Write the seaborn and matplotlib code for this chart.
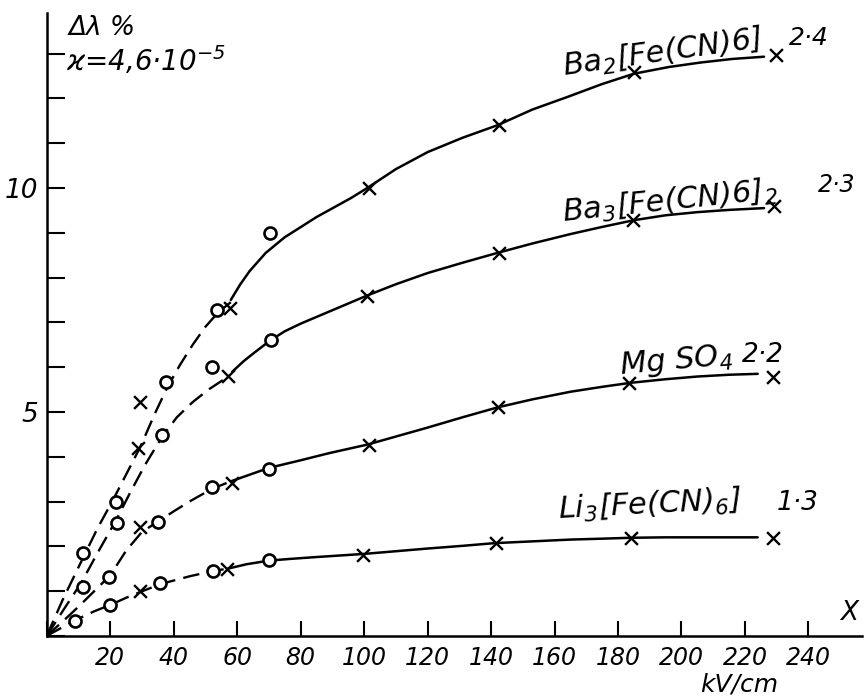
import matplotlib
matplotlib.use("Agg")
import matplotlib.pyplot as plt
import numpy as np
import pandas as pd
import seaborn as sns

# field strength kV/cm and relative change of wavelength
# measured points (x = crosses, o = circles)
ba2_cross_x = [28.8, 29.5, 57.9, 101.4, 142.4, 185.0, 229.8]
ba2_cross_y = [4.20, 5.22, 7.32, 10.0, 11.40, 12.59, 12.97]
ba2_circ_x = [11.5, 21.9, 37.7, 53.8, 70.4]
ba2_circ_y = [1.85, 2.99, 5.67, 7.28, 9.00]

ba3_cross_x = [57.0, 101.0, 142.4, 184.7, 229.1]
ba3_cross_y = [5.80, 7.59, 8.55, 9.29, 9.60]
ba3_circ_x = [11.4, 22.2, 36.4, 52.2, 70.8]
ba3_circ_y = [1.09, 2.52, 4.49, 6.00, 6.60]

mg_cross_x = [29.5, 58.5, 101.4, 142.1, 183.4, 228.8]
mg_cross_y = [2.43, 3.41, 4.26, 5.11, 5.65, 5.78]
mg_circ_x = [19.7, 35.2, 52.2, 69.9]
mg_circ_y = [1.32, 2.54, 3.33, 3.73]

li_cross_x = [29.5, 56.9, 99.5, 141.4, 184.0, 228.8]
li_cross_y = [1.00, 1.50, 1.81, 2.08, 2.19, 2.19]
li_circ_x = [9.0, 20.0, 35.8, 52.5, 69.9]
li_circ_y = [0.33, 0.69, 1.18, 1.45, 1.70]

# hand drawn curves: dashed part near the origin, solid part beyond
ba2_dash_x = [0, 5, 11.5, 16, 21, 25, 29.5, 34, 38, 42, 46, 50, 54, 58]
ba2_dash_y = [0, 0.8, 1.75, 2.40, 3.05, 3.60, 4.22, 4.95, 5.55, 6.05, 6.50, 6.90, 7.22, 7.45]
ba2_line_x = [58, 61, 64, 69, 75, 85, 96, 101, 110, 120, 131, 142, 153, 164, 175, 185, 196, 206, 216, 226]
ba2_line_y = [7.50, 7.85, 8.15, 8.55, 8.90, 9.35, 9.78, 10.0, 10.42, 10.80, 11.12, 11.40, 11.75, 12.03, 12.32, 12.55, 12.70, 12.80, 12.88, 12.93]

ba3_dash_x = [0, 5, 11, 16, 22, 26.3, 31, 36.4, 41, 46, 51, 57]
ba3_dash_y = [0, 0.55, 1.20, 1.85, 2.60, 3.20, 3.82, 4.45, 4.88, 5.22, 5.50, 5.78]
ba3_line_x = [58.5, 62, 65, 70.5, 75, 80, 90, 101, 110, 120, 131, 142, 153, 165, 175, 185, 195, 205, 215, 226]
ba3_line_y = [5.90, 6.13, 6.30, 6.60, 6.80, 6.97, 7.27, 7.60, 7.85, 8.10, 8.33, 8.55, 8.76, 8.97, 9.13, 9.28, 9.39, 9.46, 9.51, 9.55]

mg_dash_x = [0, 5, 10, 15, 20, 25, 30, 35, 40, 45, 52, 58]
mg_dash_y = [0, 0.32, 0.65, 1.00, 1.35, 1.90, 2.32, 2.55, 2.78, 3.00, 3.28, 3.45]
mg_line_x = [58, 64, 70, 80, 89, 101, 110, 120, 131, 142, 153, 165, 175, 184, 195, 205, 215, 224]
mg_line_y = [3.45, 3.60, 3.75, 3.92, 4.08, 4.27, 4.45, 4.65, 4.88, 5.10, 5.28, 5.45, 5.56, 5.65, 5.73, 5.79, 5.83, 5.85]

li_dash_x = [0, 9, 15, 20, 25, 29.5, 36, 45, 52.5, 57]
li_dash_y = [0, 0.35, 0.55, 0.69, 0.85, 0.98, 1.16, 1.33, 1.45, 1.50]
li_line_x = [57, 63, 70, 77, 85, 100, 110, 120, 131, 141, 153, 165, 175, 184, 195, 205, 215, 224]
li_line_y = [1.50, 1.60, 1.68, 1.72, 1.76, 1.83, 1.89, 1.95, 2.01, 2.07, 2.11, 2.15, 2.17, 2.19, 2.20, 2.20, 2.20, 2.20]

x_ticks = list(range(0, 241, 20))
x_ticklabels = [""] + [str(v) for v in x_ticks[1:]]
y_ticks = list(range(0, 14))
y_ticklabels = ["5" if v == 5 else "10" if v == 10 else "" for v in y_ticks]

sns.set_theme(style="ticks")
plt.rcParams["font.family"] = ["DejaVu Sans"]
plt.rcParams["font.style"] = "italic"
plt.rcParams["mathtext.default"] = "regular"

fig = plt.figure(figsize=(8.65, 6.98), dpi=100)
ax = fig.add_axes([0.054, 0.089, 0.943, 0.892])

curves = [
    (ba2_dash_x, ba2_dash_y, ba2_line_x, ba2_line_y),
    (ba3_dash_x, ba3_dash_y, ba3_line_x, ba3_line_y),
    (mg_dash_x, mg_dash_y, mg_line_x, mg_line_y),
    (li_dash_x, li_dash_y, li_line_x, li_line_y),
]
for dx, dy, lx, ly in curves:
    sns.lineplot(x=dx, y=dy, ax=ax, color="black", lw=1.7,
                 linestyle=(0, (7, 3.5)), sort=False)
    sns.lineplot(x=lx, y=ly, ax=ax, color="black", lw=1.8, sort=False)

cross_x = ba2_cross_x + ba3_cross_x + mg_cross_x + li_cross_x
cross_y = ba2_cross_y + ba3_cross_y + mg_cross_y + li_cross_y
circ_x = ba2_circ_x + ba3_circ_x + mg_circ_x + li_circ_x
circ_y = ba2_circ_y + ba3_circ_y + mg_circ_y + li_circ_y

sns.scatterplot(x=cross_x, y=cross_y, ax=ax, marker="x", s=85,
                color="black", linewidth=1.7, zorder=3)
sns.scatterplot(x=circ_x, y=circ_y, ax=ax, marker="o", s=75,
                facecolor="white", edgecolor="black", linewidth=1.9, zorder=3)

ax.set_xlim(0, 257)
ax.set_ylim(0, 13.9)
ax.set_xticks(x_ticks)
ax.set_xticklabels(x_ticklabels)
ax.set_yticks(y_ticks)
ax.set_yticklabels(y_ticklabels)
ax.tick_params(axis="x", direction="in", length=11, width=1.5, pad=7,
               labelsize=17, colors="black")
ax.tick_params(axis="y", direction="in", length=13, width=1.5, pad=6,
               labelsize=19, colors="black")
sns.despine(ax=ax)
for side in ["left", "bottom"]:
    ax.spines[side].set_linewidth(1.8)
    ax.spines[side].set_color("black")

tkw = dict(color="black", fontsize=22, va="baseline", ha="left")
ax.text(6.8, 13.42, "Δλ %", color="black", fontsize=19, va="baseline")
ax.text(6.0, 12.62, "ϰ=4,6·10$^{-5}$", color="black", fontsize=20, va="baseline")

ax.text(162, 12.5, "Ba$_2$[Fe(CN)6]", rotation=8, **tkw)
ax.text(234, 13.2, "2·4", fontsize=18, color="black", va="baseline")
ax.text(162, 9.25, "Ba$_3$[Fe(CN)6]$_2$", rotation=6, **tkw)
ax.text(243, 9.9, "2·3", fontsize=17, color="black", va="baseline")
ax.text(180, 5.85, "Mg SO$_4$", rotation=5, **tkw)
ax.text(219, 6.12, "2·2", fontsize=19, color="black", va="baseline")
ax.text(161, 2.62, "Li$_3$[Fe(CN)$_6$]", rotation=3, **tkw)
ax.text(230, 2.82, "1·3", fontsize=19, color="black", va="baseline")

ax.text(250, 0.35, "X", fontsize=19, color="black", va="baseline")
ax.text(206, -1.24, "kV/cm", fontsize=18, color="black", va="baseline",
        clip_on=False)

fig.savefig("out.png", dpi=100)
